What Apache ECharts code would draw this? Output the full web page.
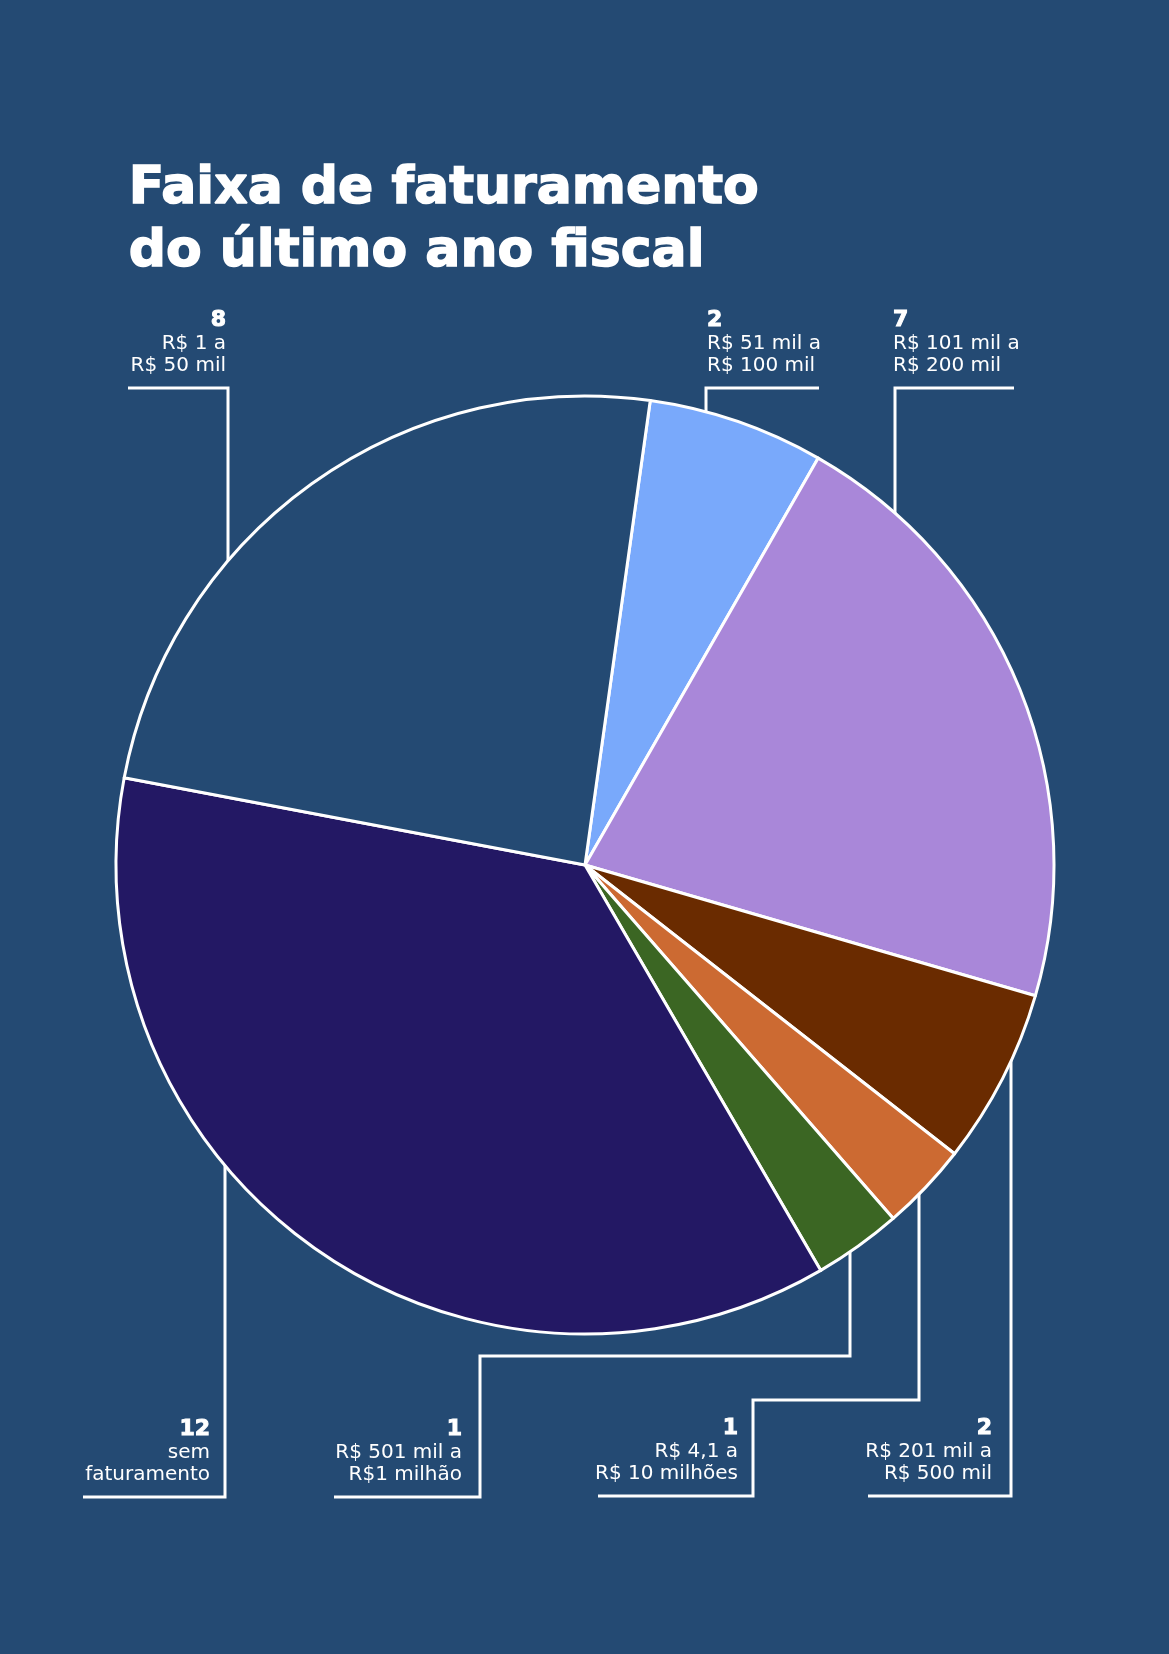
<!DOCTYPE html>
<html><head><meta charset="utf-8">
<script src="https://cdn.jsdelivr.net/npm/echarts@6.0.0/dist/echarts.min.js"></script>
<style>html,body{margin:0;padding:0;background:#244a73}#c{width:1169px;height:1654px}</style>
</head><body><div id="c"></div>
<script>
// Data (clockwise from the top)
const categories = ['R$ 51 mil a\nR$ 100 mil', 'R$ 101 mil a\nR$ 200 mil', 'R$ 201 mil a\nR$ 500 mil', 'R$ 4,1 a\nR$ 10 milhões', 'R$ 501 mil a\nR$1 milhão', 'sem\nfaturamento', 'R$ 1 a\nR$ 50 mil'];
const values = [2, 7, 2, 1, 1, 12, 8];
const colors = ['#79a9fb', '#a987d9', '#6a2b00', '#cc6a32', '#3b6623', '#231864', '#244a73'];
const titleText = 'Faixa de faturamento\ndo último ano fiscal';

// Layout
const BG = '#244a73';
const CX = 585, CY = 865, R = 469;
// label anchors: x, lineY (horizontal leader), align
const labelPos = [
  {x: 707, lineY: 388, align: 'left'},
  {x: 893, lineY: 388, align: 'left'},
  {x: 992, lineY: 1496, align: 'right'},
  {x: 738, lineY: 1496, align: 'right'},
  {x: 462, lineY: 1497, align: 'right'},
  {x: 210, lineY: 1497, align: 'right'},
  {x: 226, lineY: 388, align: 'right'}
];
// leader paths; last point attaches to circle at given x (top or bottom)
const leaders = [
  {pts: [[819,388],[706,388]], ax: 706, side: -1},
  {pts: [[1014,388],[895,388]], ax: 895, side: -1},
  {pts: [[868,1496],[1011,1496]], ax: 1011, side: 1},
  {pts: [[598,1496],[753,1496],[753,1400],[919,1400]], ax: 919, side: 1},
  {pts: [[334,1497],[480,1497],[480,1356],[850,1356]], ax: 850, side: 1},
  {pts: [[83,1497],[225,1497]], ax: 225, side: 1},
  {pts: [[128,388],[228,388]], ax: 228, side: -1}
];

const graphics = [{
  type: 'text', left: 128, top: 158,
  style: {text: titleText, fill: '#ffffff', stroke: '#ffffff', lineWidth: 1.5, font: 'bold 52px "DejaVu Sans"', lineHeight: 63}
}];
leaders.forEach(l => {
  const dx = l.ax - CX;
  const y = CY + l.side * (Math.sqrt(R*R - dx*dx) - 2);
  graphics.push({
    type: 'polyline', silent: true,
    shape: {points: l.pts.concat([[l.ax, y]])},
    style: {stroke: '#ffffff', lineWidth: 3, fill: null, lineJoin: 'miter'}
  });
});

const chart = echarts.init(document.getElementById('c'), null, {renderer: 'canvas'});
chart.setOption({
  backgroundColor: BG,
  animation: false,
  graphic: graphics,
  series: [{
    type: 'pie',
    center: [CX, CY],
    radius: R,
    startAngle: 82,
    clockwise: true,
    silent: true,
    data: values.map((v, i) => ({value: v, name: categories[i], itemStyle: {color: colors[i]}})),
    itemStyle: {borderColor: '#ffffff', borderWidth: 3},
    label: {
      show: true,
      position: 'outside',
      overflow: 'none',
      formatter: p => '{v|' + p.value + '}\n' + p.name.split('\n').map(s => '{t|' + s + '}').join('\n'),
      rich: {
        v: {fontFamily: 'DejaVu Sans', fontWeight: 'bold', fontSize: 22, lineHeight: 26, color: '#ffffff', textBorderColor: '#ffffff', textBorderWidth: 1},
        t: {fontFamily: 'DejaVu Sans', fontSize: 20, lineHeight: 22, color: '#ffffff'}
      }
    },
    labelLine: {show: false},
    labelLayout: p => {
      const lp = labelPos[p.dataIndex];
      return {x: lp.x, y: lp.lineY - 11, align: lp.align, verticalAlign: 'bottom'};
    }
  }]
});
</script>
</body></html>
